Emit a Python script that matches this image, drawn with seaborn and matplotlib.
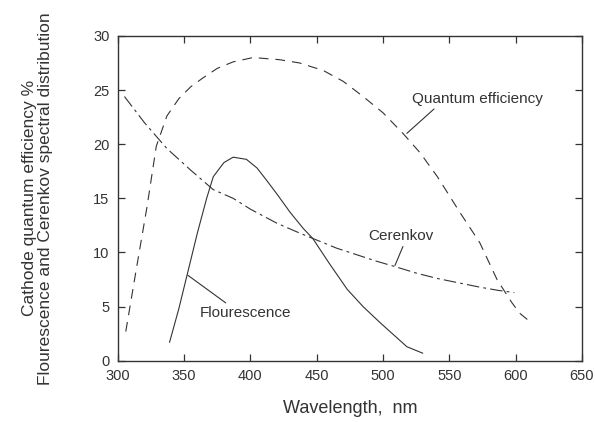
import matplotlib
matplotlib.use("Agg")
import pandas as pd
from matplotlib import pyplot as plt
import seaborn as sns

# values
qe_wl = [306, 314, 322, 329, 337, 346, 355, 364, 375, 387, 402, 422, 437, 455, 470, 485, 500, 515, 528, 541, 558, 573, 586, 597, 603, 609]
qe_val = [2.7, 8.5, 14.2, 19.8, 22.6, 24.2, 25.3, 26.1, 27.0, 27.6, 28.0, 27.8, 27.5, 26.8, 25.8, 24.4, 22.9, 21.0, 19.2, 17.0, 13.7, 10.9, 7.5, 5.4, 4.4, 3.8]

cer_wl = [305, 320, 337, 355, 372, 387, 400, 420, 437, 447, 465, 480, 495, 509, 525, 541, 557, 573, 587, 599]
cer_val = [24.4, 22.0, 19.6, 17.6, 15.8, 15.0, 14.0, 12.7, 11.8, 11.3, 10.4, 9.8, 9.2, 8.7, 8.1, 7.6, 7.2, 6.8, 6.5, 6.3]

fl_wl = [339, 346, 352, 360, 367, 372, 380, 387, 397, 405, 412, 420, 430, 440, 447, 460, 473, 485, 498, 508, 518, 530]
fl_val = [1.7, 4.8, 7.8, 11.8, 15.0, 17.0, 18.3, 18.8, 18.6, 17.8, 16.7, 15.4, 13.7, 12.2, 11.3, 8.9, 6.6, 5.0, 3.5, 2.4, 1.3, 0.7]

x_ticks = [300, 350, 400, 450, 500, 550, 600, 650]
y_ticks = [0, 5, 10, 15, 20, 25, 30]

sns.set_style("ticks")
plt.rcParams['font.family'] = ['Liberation Sans', 'DejaVu Sans']
plt.rcParams['lines.scale_dashes'] = False

ink = '#333333'
fig = plt.figure(figsize=(5.95, 4.22), dpi=100)
ax = fig.add_axes([0.198, 0.145, 0.780, 0.770])

qe = pd.DataFrame({'wl': qe_wl, 'val': qe_val})
cer = pd.DataFrame({'wl': cer_wl, 'val': cer_val})
fl = pd.DataFrame({'wl': fl_wl, 'val': fl_val})

sns.lineplot(data=qe, x='wl', y='val', ax=ax, color=ink, lw=0.8, sort=False, estimator=None)
ax.lines[-1].set_dashes((7, 5))
sns.lineplot(data=cer, x='wl', y='val', ax=ax, color=ink, lw=0.8, sort=False, estimator=None)
ax.lines[-1].set_dashes((9, 3, 2, 3))
sns.lineplot(data=fl, x='wl', y='val', ax=ax, color=ink, lw=0.8, sort=False, estimator=None)

ax.set_xlim(300, 650)
ax.set_ylim(0, 30)
ax.set_xticks(x_ticks)
ax.set_yticks(y_ticks)
ax.tick_params(direction='in', length=5, width=0.9, colors=ink, labelsize=10.5,
               top=True, right=True, labeltop=False, labelright=False, pad=6)
for s in ax.spines.values():
    s.set_visible(True)
    s.set_color(ink)
    s.set_linewidth(1.0)

ax.set_xlabel('Wavelength,  nm', fontsize=13, color=ink, labelpad=12)
ax.set_ylabel('Cathode quantum efficiency %\nFlourescence and Cerenkov spectral distribution',
              fontsize=12.5, color=ink, labelpad=29, linespacing=1.1)

ax.annotate('Quantum efficiency', xy=(518, 21.0), xytext=(521.5, 24.2), fontsize=11, color=ink,
            va='center', ha='left',
            arrowprops=dict(arrowstyle='-', color=ink, lw=0.8, shrinkA=0, shrinkB=0,
                            relpos=(0.2, 0.0)))
ax.annotate('Cerenkov', xy=(509, 8.8), xytext=(489, 11.5), fontsize=11, color=ink,
            va='center', ha='left',
            arrowprops=dict(arrowstyle='-', color=ink, lw=0.8, shrinkA=0, shrinkB=0,
                            relpos=(0.55, 0.0)))
ax.annotate('Flourescence', xy=(352.8, 7.9), xytext=(362, 4.4), fontsize=11, color=ink,
            va='center', ha='left',
            arrowprops=dict(arrowstyle='-', color=ink, lw=0.8, shrinkA=0, shrinkB=0,
                            relpos=(0.33, 1.0)))

fig.savefig('out.png', dpi=100)
